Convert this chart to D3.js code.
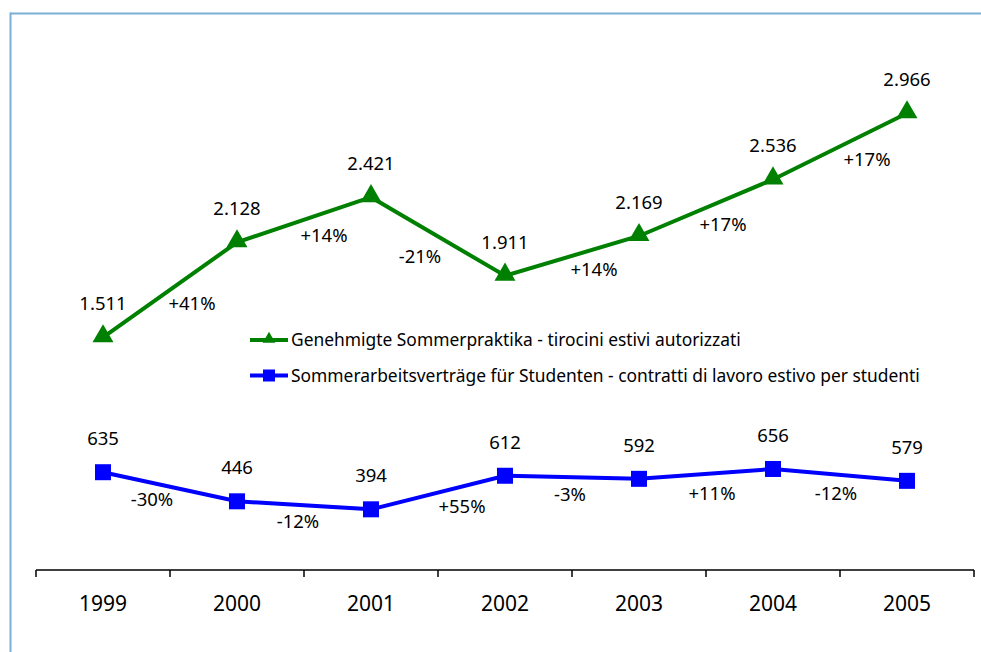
<!DOCTYPE html>
<html>
<head>
<meta charset="utf-8">
<script src="https://cdn.jsdelivr.net/npm/d3@7"></script>
<style>
  body { margin: 0; background: #fff; }
  text { font-family: "Noto Sans", sans-serif; fill: #000; }
</style>
</head>
<body>
<div id="chart"></div>
<script>
const years = ["1999", "2000", "2001", "2002", "2003", "2004", "2005"];
const praktika = [1511, 2128, 2421, 1911, 2169, 2536, 2966];
const vertraege = [635, 446, 394, 612, 592, 656, 579];
const seriesNames = [
  "Genehmigte Sommerpraktika - tirocini estivi autorizzati",
  "Sommerarbeitsverträge für Studenten - contratti di lavoro estivo per studenti"
];

// small nudges for the change labels, so they sit like the original
const pctNudgeGreen = [[22, 14], [20, 16], [-18, 20], [22, 14], [17, 17], [27, 13]];
const pctNudgeBlue = [[-18, 13], [-6, 16], [24, 14], [-2, 17], [6, 20], [-4, 19]];

const width = 981, height = 652;

const svg = d3.select("#chart")
  .append("svg")
  .attr("width", width)
  .attr("height", height);

// frame lines (top + left)
svg.append("line")
  .attr("x1", 10).attr("x2", width).attr("y1", 13.5).attr("y2", 13.5)
  .attr("stroke", "#7bafd4").attr("stroke-width", 2);
svg.append("line")
  .attr("x1", 10.5).attr("x2", 10.5).attr("y1", 12.5).attr("y2", height)
  .attr("stroke", "#7bafd4").attr("stroke-width", 2);

const x = d3.scaleBand().domain(years).range([36, 974]);
const y = d3.scaleLinear().domain([0, 3500]).range([570, 31]);
const cx = d => x(d) + x.bandwidth() / 2;

const fmt = d3.formatLocale({ decimal: ",", thousands: ".", grouping: [3], currency: ["", "€"] }).format(",d");

// axis
const axis = svg.append("g")
  .attr("transform", "translate(0,570)");
axis.append("line")
  .attr("x1", 36).attr("x2", 974)
  .attr("stroke", "#000").attr("stroke-width", 1.5);
axis.selectAll(".tick")
  .data(years.concat([null]))
  .join("line")
  .attr("x1", (d, i) => i < years.length ? x(d) : x.range()[1])
  .attr("x2", (d, i) => i < years.length ? x(d) : x.range()[1])
  .attr("y1", 0).attr("y2", 7)
  .attr("stroke", "#000").attr("stroke-width", 1.5);
axis.selectAll(".year")
  .data(years)
  .join("text")
  .attr("x", d => cx(d))
  .attr("y", 41)
  .attr("text-anchor", "middle")
  .style("font-size", "21px")
  .text(d => d);

const line = d3.line()
  .x((d, i) => cx(years[i]))
  .y(d => y(d));

function drawSeries(values, color, marker, nudges) {
  const g = svg.append("g");
  g.append("path")
    .datum(values)
    .attr("d", line)
    .attr("fill", "none")
    .attr("stroke", color)
    .attr("stroke-width", 4);

  if (marker === "triangle") {
    const sym = d3.symbol().type(d3.symbolTriangle).size(190);
    g.selectAll(".m")
      .data(values)
      .join("path")
      .attr("d", sym)
      .attr("transform", (d, i) => `translate(${cx(years[i])},${y(d) - 1})`)
      .attr("fill", color);
  } else {
    g.selectAll(".m")
      .data(values)
      .join("rect")
      .attr("x", (d, i) => cx(years[i]) - 8)
      .attr("y", d => y(d) - 8)
      .attr("width", 16).attr("height", 16)
      .attr("fill", color);
  }

  g.selectAll(".val")
    .data(values)
    .join("text")
    .attr("x", (d, i) => cx(years[i]))
    .attr("y", d => y(d) - 27)
    .attr("text-anchor", "middle")
    .style("font-size", "18.5px")
    .text(d => fmt(d));

  const changes = values.slice(1).map((v, i) => {
    const p = Math.round((v / values[i] - 1) * 100);
    return { p, a: values[i], b: v, i };
  });
  g.selectAll(".pct")
    .data(changes)
    .join("text")
    .attr("x", d => (cx(years[d.i]) + cx(years[d.i + 1])) / 2 + nudges[d.i][0])
    .attr("y", d => (y(d.a) + y(d.b)) / 2 + nudges[d.i][1] + 6.5)
    .attr("text-anchor", "middle")
    .style("font-size", "18.5px")
    .text(d => (d.p > 0 ? "+" : "") + d.p + "%");
}

drawSeries(praktika, "#008000", "triangle", pctNudgeGreen);
drawSeries(vertraege, "#0000ff", "square", pctNudgeBlue);

// legend
const legend = svg.append("g").attr("transform", "translate(250,340)");
const legendItems = [
  { name: seriesNames[0], color: "#008000", marker: "triangle" },
  { name: seriesNames[1], color: "#0000ff", marker: "square" }
];
const li = legend.selectAll("g")
  .data(legendItems)
  .join("g")
  .attr("transform", (d, i) => `translate(0,${i * 35.5})`);
li.append("line")
  .attr("x1", 0).attr("x2", 38)
  .attr("stroke", d => d.color).attr("stroke-width", 4);
li.each(function (d) {
  const sel = d3.select(this);
  if (d.marker === "triangle") {
    sel.append("path")
      .attr("d", d3.symbol().type(d3.symbolTriangle).size(70))
      .attr("transform", "translate(19,-1)")
      .attr("fill", d.color);
  } else {
    sel.append("rect")
      .attr("x", 13).attr("y", -6).attr("width", 12).attr("height", 12)
      .attr("fill", d.color);
  }
});
li.append("text")
  .attr("x", 41)
  .attr("y", 6)
  .style("font-size", "17.4px")
  .text(d => d.name);
</script>
</body>
</html>
